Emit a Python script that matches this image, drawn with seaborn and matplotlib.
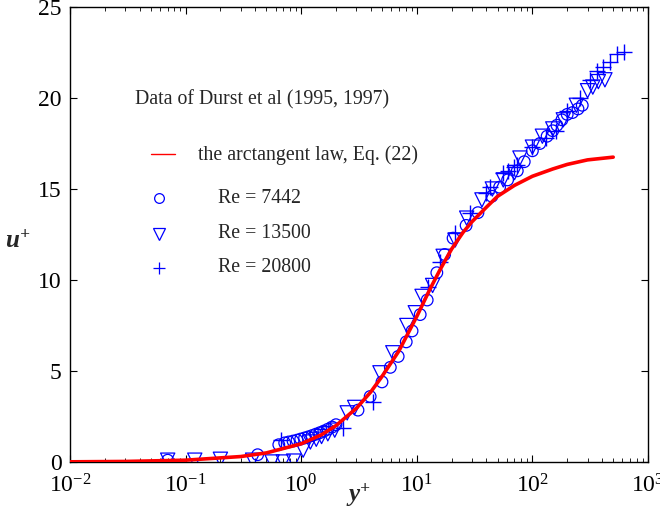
import numpy as np
import pandas as pd
import matplotlib
matplotlib.use("Agg")
import matplotlib.pyplot as plt
import seaborn as sns

# ---------------- data ----------------
curve_y = [0.01, 0.03, 0.1, 0.3, 0.5, 1.0, 1.5, 2.0, 3.0, 4.0, 5.0, 7.0, 10.0, 13.0,
           16.0, 20.0, 25.0, 30.0, 40.0, 50.0, 70.0, 100.0, 150.0, 200.0, 300.0, 500.0]
curve_u = [0.01, 0.03, 0.1, 0.3, 0.5, 1.0, 1.5, 2.0, 2.95, 3.85, 4.7, 6.1, 8.0, 9.5,
           10.6, 11.7, 12.6, 13.2, 14.0, 14.6, 15.2, 15.7, 16.1, 16.35, 16.6, 16.75]

re7442_y = [0.07, 0.42, 0.64, 0.72, 0.78, 0.85, 0.92, 0.99, 1.07, 1.15, 1.24, 1.34,
            1.45, 1.57, 1.7, 1.85, 2.0, 3.1, 3.95, 5.0, 5.9, 6.9, 8.1, 9.1, 10.7,
            12.3, 14.9, 17.4, 20.6, 26.7, 33.8, 44.6, 52.0, 61.0, 74.0, 85.0, 100.0,
            116.0, 134.0, 150.0, 163.0, 180.0, 200.0, 222.0, 248.0, 270.0]
re7442_u = [0.1, 0.4, 0.95, 1.05, 1.1, 1.15, 1.2, 1.26, 1.32, 1.38, 1.45, 1.53,
            1.61, 1.7, 1.8, 1.92, 2.05, 2.85, 3.6, 4.4, 5.2, 5.8, 6.6, 7.2, 8.1,
            8.9, 10.4, 11.4, 12.3, 13.0, 13.7, 14.6, 15.1, 15.5, 16.0, 16.5, 17.1,
            17.5, 17.9, 18.2, 18.5, 18.8, 19.1, 19.2, 19.4, 19.6]

re13500_y = [0.07, 0.12, 0.2, 0.38, 0.56, 0.7, 0.86, 1.04, 1.2, 1.35, 1.5, 1.7,
             1.95, 2.5, 2.9, 4.8, 6.2, 8.2, 9.7, 11.1, 13.7, 16.9, 21.5, 27.0,
             36.6, 45.0, 56.0, 70.0, 78.0, 100.0, 122.0, 150.0, 185.0, 240.0,
             300.0, 333.0, 372.0, 424.0]
re13500_u = [0.1, 0.1, 0.15, 0.1, 0.0, 0.0, 0.05, 0.65, 1.1, 1.25, 1.4, 1.55,
             1.75, 2.7, 3.0, 4.9, 6.0, 7.5, 8.2, 9.1, 9.7, 11.3, 12.2, 13.4,
             14.4, 15.0, 15.5, 15.9, 16.7, 17.3, 17.9, 18.3, 18.8, 19.6,
             20.4, 20.6, 20.9, 21.0]

re20800_y = [0.67, 2.3, 4.2, 12.5, 16.0, 21.5, 28.6, 40.0, 43.0, 56.0, 62.0, 70.0,
             74.0, 100.0, 130.0, 160.0, 200.0, 257.0, 316.0, 363.0, 410.0, 468.0,
             537.0, 617.0]
re20800_u = [1.2, 1.85, 3.3, 9.6, 11.0, 12.6, 13.7, 14.8, 15.1, 15.9, 16.0, 16.2,
             16.3, 17.3, 17.8, 18.2, 19.3, 20.0, 21.0, 21.5, 21.7, 22.0,
             22.4, 22.5]

title_text = "Data of Durst et al (1995, 1997)"
curve_label = "the arctangent law, Eq. (22)"
series_labels = ["Re = 7442", "Re = 13500", "Re = 20800"]

# ---------------- style ----------------
sns.set_theme(style="ticks")
plt.rcParams["font.family"] = ["Liberation Serif", "DejaVu Serif"]
plt.rcParams["mathtext.fontset"] = "custom"
plt.rcParams["mathtext.rm"] = "Liberation Serif"
plt.rcParams["mathtext.it"] = "Liberation Serif:italic"
plt.rcParams["mathtext.bf"] = "Liberation Serif:bold:italic"

BLUE = "#0000ff"
RED = "#ff0000"

fig = plt.figure(figsize=(6.6, 5.13), dpi=100)
ax = fig.add_axes([70 / 660, (513 - 462) / 513, (648 - 70) / 660, (462 - 7) / 513])

curve_df = pd.DataFrame({"y": curve_y, "u": curve_u})
d1 = pd.DataFrame({"y": re7442_y, "u": re7442_u})
d2 = pd.DataFrame({"y": re13500_y, "u": re13500_u})
d3 = pd.DataFrame({"y": re20800_y, "u": re20800_u})

sns.scatterplot(data=d1, x="y", y="u", marker="o", s=70, facecolors="none",
                edgecolor=BLUE, linewidth=0.9, ax=ax, zorder=3)
sns.scatterplot(data=d2, x="y", y="u", marker="v", s=105, facecolors="none",
                edgecolor=BLUE, linewidth=0.9, ax=ax, zorder=3)
sns.scatterplot(data=d3, x="y", y="u", marker="+", s=120, color=BLUE,
                linewidth=1.0, ax=ax, zorder=3)
sns.lineplot(data=curve_df, x="y", y="u", color=RED, linewidth=2.6, ax=ax,
             zorder=4, estimator=None, sort=False)

ax.set_xscale("log")
ax.set_xlim(1e-2, 1e3)
ax.set_ylim(0, 25)
ax.set_yticks([0, 5, 10, 15, 20, 25])

ax.tick_params(which="both", direction="in", top=True, right=True,
               colors="black", labelsize=17)
ax.tick_params(which="major", length=5, width=0.8)
ax.tick_params(which="minor", length=3, width=0.6)
ax.tick_params(axis="x", which="major", pad=9)
ax.tick_params(axis="y", which="major", pad=6)
for sp in ax.spines.values():
    sp.set_color("black")
    sp.set_linewidth(1.0)

ax.set_xlabel(r"$\mathbf{y^{+}}$", fontsize=18, va="center", ha="center")
ax.set_ylabel(r"$\mathbf{u^{+}}$", fontsize=18, rotation=0, va="center", ha="center")
ax.yaxis.set_label_coords(-0.09, 0.485)
ax.xaxis.set_label_coords(0.50, -0.072)

# ---------------- in-plot legend ----------------
tr = ax.transAxes
fs = 14.3
ax.text(0.112, 0.796, title_text, transform=tr, fontsize=fs, va="center", ha="left")
ax.plot([0.140, 0.182], [0.677, 0.677], transform=tr, color=RED, linewidth=1.0)
ax.text(0.221, 0.675, curve_label, transform=tr, fontsize=fs, va="center", ha="left")
ys = [0.580, 0.502, 0.427]
mk = [("o", 7), ("v", 8), ("+", 9)]
for (m, ms), yy, lab in zip(mk, ys, series_labels):
    ax.plot([0.154], [yy], transform=tr, marker=m, ms=ms, mfc="none", mec=BLUE,
            mew=0.9, linestyle="none", color=BLUE)
    ax.text(0.256, yy, lab, transform=tr, fontsize=fs, va="center", ha="left")

fig.savefig("out.png", dpi=100)
